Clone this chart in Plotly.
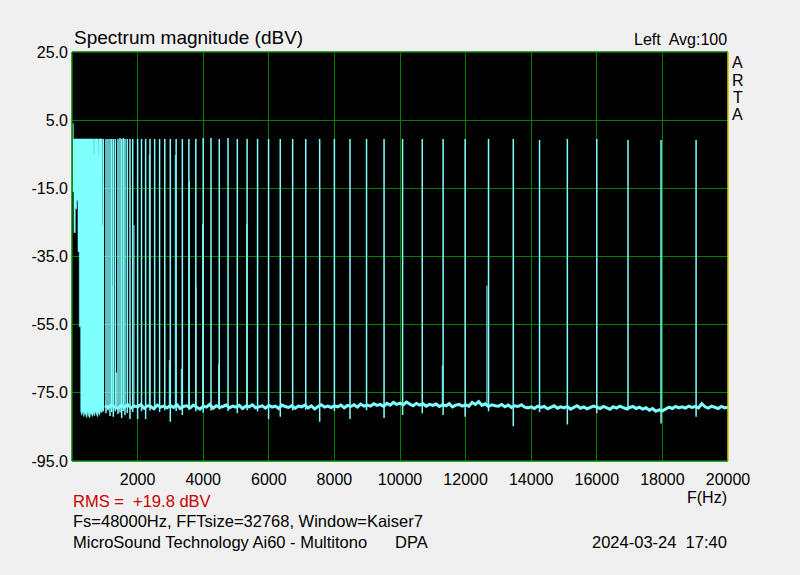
import plotly.graph_objects as go

# ---------------- data ----------------
# x axis ticks (Hz) and y axis ticks (dBV)
x_tick_vals = [2000, 4000, 6000, 8000, 10000, 12000, 14000, 16000, 18000, 20000]
x_tick_text = ["2000", "4000", "6000", "8000", "10000", "12000", "14000", "16000", "18000", "20000"]
y_tick_vals = [25, 5, -15, -35, -55, -75, -95]
y_tick_text = ["25.0", "5.0", "-15.0", "-35.0", "-55.0", "-75.0", "-95.0"]

# dense low-frequency multitone block: upper and lower outline (Hz, dBV)
block_hi_freq = [12, 40, 42, 665, 667, 675, 677, 810, 812, 820, 822, 922, 924, 952]
block_hi_level = [4.0, 4.0, -0.5, -0.5, -5.2, -5.2, -0.5, -0.5, -5.2, -5.2, -0.5, -0.5, -25.8, -25.8]
block_lo_freq = [12, 58, 60, 100, 102, 141, 143, 181, 183, 221, 223, 263, 266, 300, 330, 360,
                 390, 420, 450, 480, 510, 540, 570, 600, 630, 660, 690, 720, 750, 780, 810,
                 840, 870, 900, 930, 952]
block_lo_level = [-16.0, -16.0, -28.0, -28.0, -21.0, -21.0, -18.6, -18.6, -33.6, -33.6, -55.6,
                  -55.6, -80.5, -81.6, -80.2, -82.0, -80.7, -81.5, -82.3, -80.4, -81.9, -82.4,
                  -80.8, -81.2, -82.0, -80.6, -81.8, -80.3, -81.4, -82.1, -80.5, -81.6, -80.2,
                  -80.9, -80.0, -79.5]

# individual tones (Hz), their peak level and the lowest point of their skirt (dBV)
tone_freq = [954, 1037, 1098, 1159, 1210, 1259, 1320, 1402, 1463, 1515, 1564, 1616, 1686,
             1768, 1851, 2000, 2119, 2245, 2378, 2520, 2670, 2828, 2997, 3175, 3364, 3564,
             3776, 4000, 4238, 4490, 4757, 5040, 5339, 5657, 5993, 6350, 6727, 7127, 7551,
             8000, 8476, 8980, 9514, 10079, 10679, 11314, 11986, 12699, 13454, 14254, 15102,
             16000, 16951, 17959, 19027]
tone_peak = [-0.5, -0.5, -0.5, -0.5, -0.5, -0.5, -0.5, -0.5, -0.2, -0.5, -0.2, -0.5, -0.5,
             -0.5, -0.5, -0.5, -0.5, -0.5, -0.5, -0.5, -0.5, -0.5, -0.5, -0.5, -0.5, -0.5,
             -0.5, -0.2, -0.2, -0.5, -0.2, -0.5, -0.5, -0.5, -0.5, -0.5, -0.5, -0.5, -0.5,
             -0.5, -0.5, -0.5, -0.5, -0.5, -0.5, -0.5, -0.5, -0.5, -0.5, -0.8, -0.5,
             -0.5, -0.8, -0.8, -0.8]
tone_low = [-80.5, -81.0, -80.2, -81.8, -80.6, -82.0, -80.4, -81.2, -80.8, -82.4, -80.3, -81.5, -80.9,
            -82.7, -80.6, -82.7, -80.4, -82.7, -80.2, -79.8, -80.6, -80.1, -83.5, -80.3, -81.5, -80.0,
            -80.4, -80.8, -80.2, -79.9, -80.3, -81.0, -80.1, -80.5, -82.7, -82.0, -80.2, -80.0, -83.5,
            -80.3, -82.7, -80.1, -82.4, -81.5, -81.0, -81.5, -82.0, -80.4, -84.8, -80.6, -84.3,
            -81.0, -80.2, -84.0, -82.0]

# partial-height skirt lines next to tones (Hz, dBV top)
skirt_freq = [1220, 1362, 1890, 2358, 2967, 3150, 3333, 3577, 3780, 3984, 4472, 5325, 11290, 12650]
skirt_level = [-43.5, -69.0, -25.8, -5.2, -65.4, -5.2, -68.0, -13.0, -43.9, -25.5, -66.6, -25.5,
               -67.0, -43.5]

# noise floor every 100 Hz from 1000 Hz to 20000 Hz (dBV)
noise_freq = [1000 + 100 * i for i in range(191)]
noise_level = [
    -78.8, -79.3, -78.6, -79.1, -79.6, -78.7, -79.2, -78.5, -79.4, -78.9,
    -79.1, -78.4, -79.5, -78.8, -79.0, -79.7, -78.6, -79.2, -78.9, -79.4,
    -78.7, -79.3, -78.5, -79.6, -79.0, -78.8, -79.4, -78.6, -79.1, -79.8,
    -78.9, -79.2, -78.4, -79.5, -78.8, -79.3, -79.0, -78.6, -79.4, -78.9,
    -79.2, -78.7, -79.6, -78.9, -79.1, -78.5, -79.4, -79.0, -78.8, -79.5,
    -78.7, -79.2, -78.9, -79.6, -78.6, -79.0, -79.3, -78.8, -79.5, -78.9,
    -79.1, -78.6, -79.4, -78.8, -79.7, -79.0, -78.5, -79.2, -78.9, -79.3,
    -78.8, -79.1, -78.6, -79.4, -78.7, -79.0, -78.5, -79.2, -78.3, -78.9,
    -78.6, -78.9, -78.2, -78.7, -78.4, -79.0, -78.1, -78.6, -77.8, -78.4,
    -78.0, -78.5, -77.7, -78.3, -78.8, -78.1, -78.6, -78.2, -78.9, -78.4,
    -78.7, -78.3, -79.0, -78.5, -78.8, -78.2, -79.1, -78.6, -78.4, -78.9,
    -78.5, -78.9, -77.8, -78.4, -77.6, -78.7, -78.2, -79.0, -78.5, -78.8,
    -78.9, -78.4, -79.1, -78.6, -79.3, -78.8, -79.0, -78.5, -79.2, -79.4,
    -79.1, -79.6, -78.9, -79.3, -79.0, -79.7, -79.2, -78.8, -79.5, -79.1,
    -79.4, -79.0, -79.8, -79.2, -78.8, -79.5, -79.1, -79.7, -79.3, -78.9,
    -79.2, -79.6, -79.0, -79.4, -79.8, -79.1, -79.5, -78.9, -79.3, -79.7,
    -79.3, -79.0, -79.6, -79.2, -79.8, -79.4, -80.1, -79.6, -80.4, -80.0,
    -80.3, -79.7, -79.2, -79.6, -79.0, -79.4, -79.1, -79.5, -78.9, -79.3,
    -79.0, -79.4, -78.2, -79.1, -79.5, -78.9, -79.3, -79.6, -79.0, -79.4,
    -79.2,
]

# ---------------- styling ----------------
CYAN = "#80ffff"
GRID = "#008000"
FONT = "Liberation Sans, Arial, sans-serif"
PLOT_L, PLOT_R, PLOT_T, PLOT_B = 72, 728, 52, 461


def px_x(px):
    return (px - PLOT_L) / (PLOT_R - PLOT_L)


def px_y(py):
    return (PLOT_B - py) / (PLOT_B - PLOT_T)


fig = go.Figure()

# low-frequency block as a filled outline
poly_x = block_hi_freq + block_lo_freq[::-1]
poly_y = block_hi_level + block_lo_level[::-1]
fig.add_trace(go.Scatter(x=poly_x, y=poly_y, mode="lines", fill="toself",
                         fillcolor=CYAN, line=dict(color=CYAN, width=0.5),
                         hoverinfo="skip"))

# noise floor
fig.add_trace(go.Scatter(x=noise_freq, y=noise_level, mode="lines",
                         line=dict(color=CYAN, width=3), hoverinfo="skip"))

# tones as vertical lines
tx, ty = [], []
for f, hi, lo in zip(tone_freq, tone_peak, tone_low):
    tx += [f, f, None]
    ty += [lo, hi, None]
fig.add_trace(go.Scatter(x=tx, y=ty, mode="lines", line=dict(color=CYAN, width=1.5),
                         hoverinfo="skip"))

# skirt lines
sx, sy = [], []
for f, hi in zip(skirt_freq, skirt_level):
    sx += [f, f, None]
    sy += [-79.0, hi, None]
fig.add_trace(go.Scatter(x=sx, y=sy, mode="lines", line=dict(color=CYAN, width=1),
                         hoverinfo="skip"))

fig.update_layout(
    width=800, height=575,
    margin=dict(l=PLOT_L, r=800 - PLOT_R, t=PLOT_T, b=575 - PLOT_B, pad=0),
    paper_bgcolor="#f0f0f0", plot_bgcolor="black",
    showlegend=False,
    font=dict(family=FONT, size=16, color="black"),
    xaxis=dict(range=[0, 20000], tickvals=x_tick_vals, ticktext=x_tick_text,
               showgrid=True, gridcolor=GRID, gridwidth=1, zeroline=False,
               showline=False, ticks="", ticklabelstandoff=7,
               tickfont=dict(family=FONT, size=16, color="black")),
    yaxis=dict(range=[-95, 25], tickvals=y_tick_vals, ticktext=y_tick_text,
               showgrid=True, gridcolor=GRID, gridwidth=1, zeroline=False,
               showline=False, ticks="", ticklabelstandoff=3,
               tickfont=dict(family=FONT, size=16, color="black")),
)

# frame
frame = [
    (0, 0, 0, 1, GRID), (0, 1, 1, 1, GRID), (0, 0, 1, 0, GRID), (1, 0, 1, 1, "#c8c800"),
]
for x0, y0, x1, y1, c in frame:
    fig.add_shape(type="line", xref="paper", yref="paper", x0=x0, y0=y0, x1=x1, y1=y1,
                  line=dict(color=c, width=1.5), layer="above")


def note(text, px, py, xanchor="left", size=16, color="black"):
    fig.add_annotation(text=text, x=px_x(px), y=px_y(py), xref="paper", yref="paper",
                       xanchor=xanchor, yanchor="middle", showarrow=False,
                       font=dict(family=FONT, size=size, color=color))


note("Spectrum magnitude (dBV)", 72, 37, size=19)
note("Left  Avg:100", 729, 39, xanchor="right")
for letter, py in zip(["A", "R", "T", "A"], [63, 80, 97, 114]):
    note(letter, 738, py, xanchor="center")
note("F(Hz)", 729, 497, xanchor="right")
note("RMS =  +19.8 dBV", 71, 501, color="#c80000", size=16.5)
note("Fs=48000Hz, FFTsize=32768, Window=Kaiser7", 71, 521, size=16.5)
note("MicroSound Technology Ai60 - Multitono", 71, 542, size=16.5)
note("DPA", 393, 542, size=16.5)
note("2024-03-24  17:40", 729, 542, xanchor="right", size=16.5)

fig.write_html("out.html", config={"displayModeBar": False},
               post_script="document.body.style.margin='0';document.body.style.padding='0';")
